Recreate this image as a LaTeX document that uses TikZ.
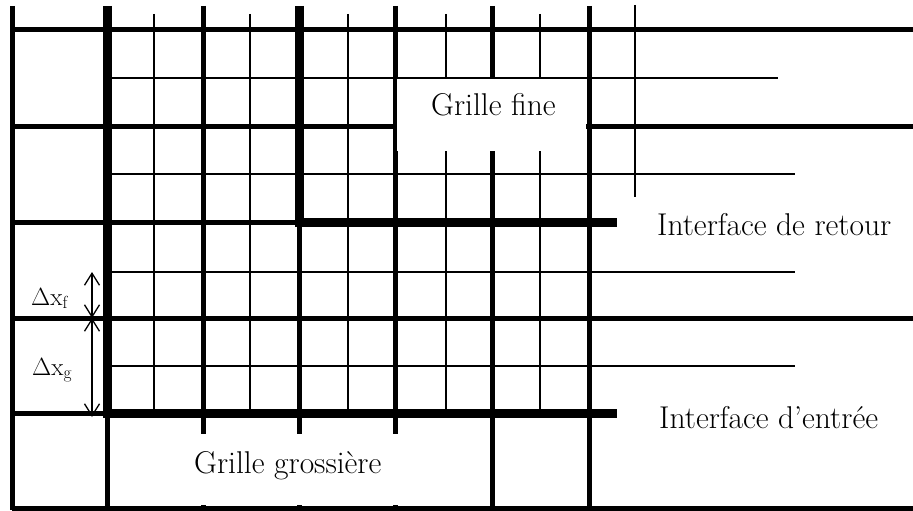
\documentclass[tikz,border=0pt]{standalone}
\usepackage{fontspec}
\usetikzlibrary{arrows.meta}
\tikzset{
  coarse/.style={line width=5pt},
  interface/.style={line width=9pt},
  fineline/.style={line width=2pt},
  txt/.style={font=\fontsize{31.5}{38}\selectfont, inner sep=0pt, anchor=base west},
  dxtxt/.style={font=\fontsize{25}{30}\selectfont, inner sep=0pt, anchor=base west},
  dimarrow/.style={line width=1.3pt, {Straight Barb[length=12pt,width=15pt]}-{Straight Barb[length=12pt,width=15pt]}},
}
\begin{document}
\begin{tikzpicture}[x=1pt,y=-1pt]
  \useasboundingbox (0,0) rectangle (913,511);

  % Fine grid
  \draw[fineline] (154,14) -- (154,413) (250,14) -- (250,413) (348,14) -- (348,413)
    (446,14) -- (446,413) (540,14) -- (540,413) (635,5) -- (635,197);
  \draw[fineline] (107,78) -- (778,78) (107,174) -- (795,174)
    (107,272) -- (795,272) (107,366) -- (795,366);

  % Coarse grid
  \draw[coarse] (12,6) -- (12,510) (203,6) -- (203,508) (395,6) -- (395,508)
    (492,6) -- (492,508) (589,6) -- (589,508) (107,413) -- (107,508) (299,222) -- (299,508);
  \draw[coarse] (12,30) -- (913,30) (12,126) -- (913,126) (12,222) -- (299,222)
    (12,318) -- (913,318) (12,413) -- (107,413) (12,508) -- (913,508);

  % Interfaces
  \draw[interface] (107,6) -- (107,413) -- (617,413);
  \draw[interface] (299,6) -- (299,222) -- (617,222);

  % Label boxes
  \fill[white] (397,79) rectangle (586,151);
  \fill[white] (110,434) rectangle (480,505);
  \node[txt] (gfine) at (431,115) {Grille fine};
  \node[txt] (ggross) at (194,473) {Grille grossière};
  \node[txt] (retour) at (657,235) {Interface de retour};
  \node[txt] (entree) at (659,428) {Interface d’entrée};

  % Mesh sizes
  \coordinate (dxtop) at (92,272);
  \coordinate (dxmid) at (92,318);
  \coordinate (dxbot) at (92,417);
  \draw[dimarrow] (dxtop) -- (dxmid);
  \draw[dimarrow] (dxmid) -- (dxbot);
  \node[dxtxt] (dxf) at (31,305) {$\Delta$x\textsubscript{f}};
  \node[dxtxt] (dxg) at (32,375) {$\Delta$x\textsubscript{g}};
\end{tikzpicture}
\end{document}
